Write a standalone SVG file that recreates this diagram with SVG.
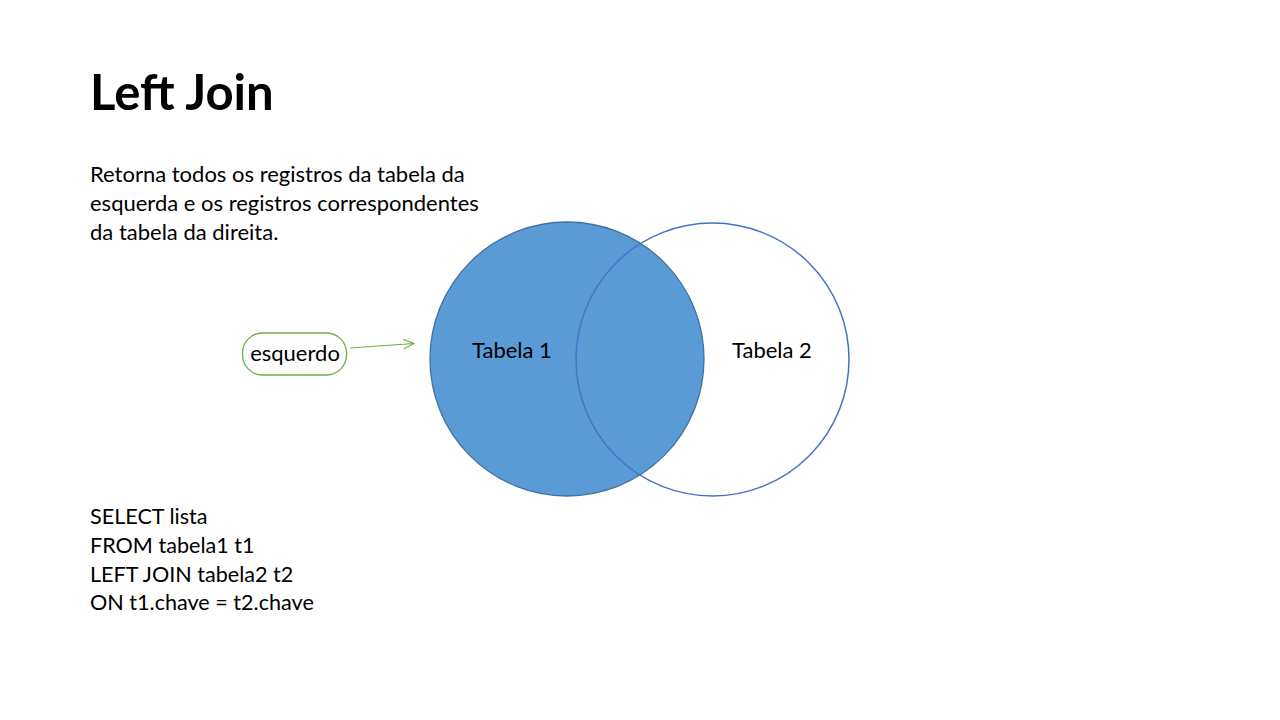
<svg xmlns="http://www.w3.org/2000/svg" width="1280" height="720" viewBox="0 0 1280 720">
<style>
text { font-family: Lato, "Liberation Sans", sans-serif; fill: #000; }
.title { font-size: 49px; font-weight: bold; }
.body { font-size: 22px; }
.sql { font-size: 21.6px; }
.lbl { font-size: 22px; }
</style>
<defs>
<marker id="arr" markerWidth="12" markerHeight="10" refX="11" refY="5" orient="auto" markerUnits="userSpaceOnUse">
<path d="M0,0 L11,5 L0,10" fill="none" stroke="#70AD47" stroke-width="1"/>
</marker>
</defs>
<rect width="1280" height="720" fill="#fff"/>
<text class="title" x="90" y="110">Left Join</text>
<g id="desc">
<text class="body" x="90" y="182">Retorna todos os registros da tabela da</text>
<text class="body" x="90" y="211">esquerda e os registros correspondentes</text>
<text class="body" x="90" y="240">da tabela da direita.</text>
</g>
<g id="sql">
<text class="sql" x="90" y="524">SELECT lista</text>
<text class="sql" x="90" y="553">FROM tabela1 t1</text>
<text class="sql" x="90" y="582">LEFT JOIN tabela2 t2</text>
<text class="sql" x="90" y="610">ON t1.chave = t2.chave</text>
</g>
<g id="tabela1">
<circle cx="567" cy="359" r="137" fill="#5B9BD5" stroke="#41719C" stroke-width="1.3"/>
<text class="lbl" x="472" y="358">Tabela 1</text>
</g>
<g id="tabela2">
<circle cx="712.5" cy="359.5" r="136.5" fill="none" stroke="#4472C4" stroke-width="1.5"/>
<text class="lbl" x="732" y="358">Tabela 2</text>
</g>
<g id="esquerdo">
<rect x="242.5" y="333" width="104" height="42" rx="20" ry="20" fill="#fff" stroke="#70AD47" stroke-width="1.3"/>
<text class="lbl" x="295" y="361" text-anchor="middle">esquerdo</text>
</g>
<g id="connectors">
<line x1="350" y1="348" x2="414" y2="343.5" stroke="#70AD47" stroke-width="1" marker-end="url(#arr)"/>
</g>
</svg>
